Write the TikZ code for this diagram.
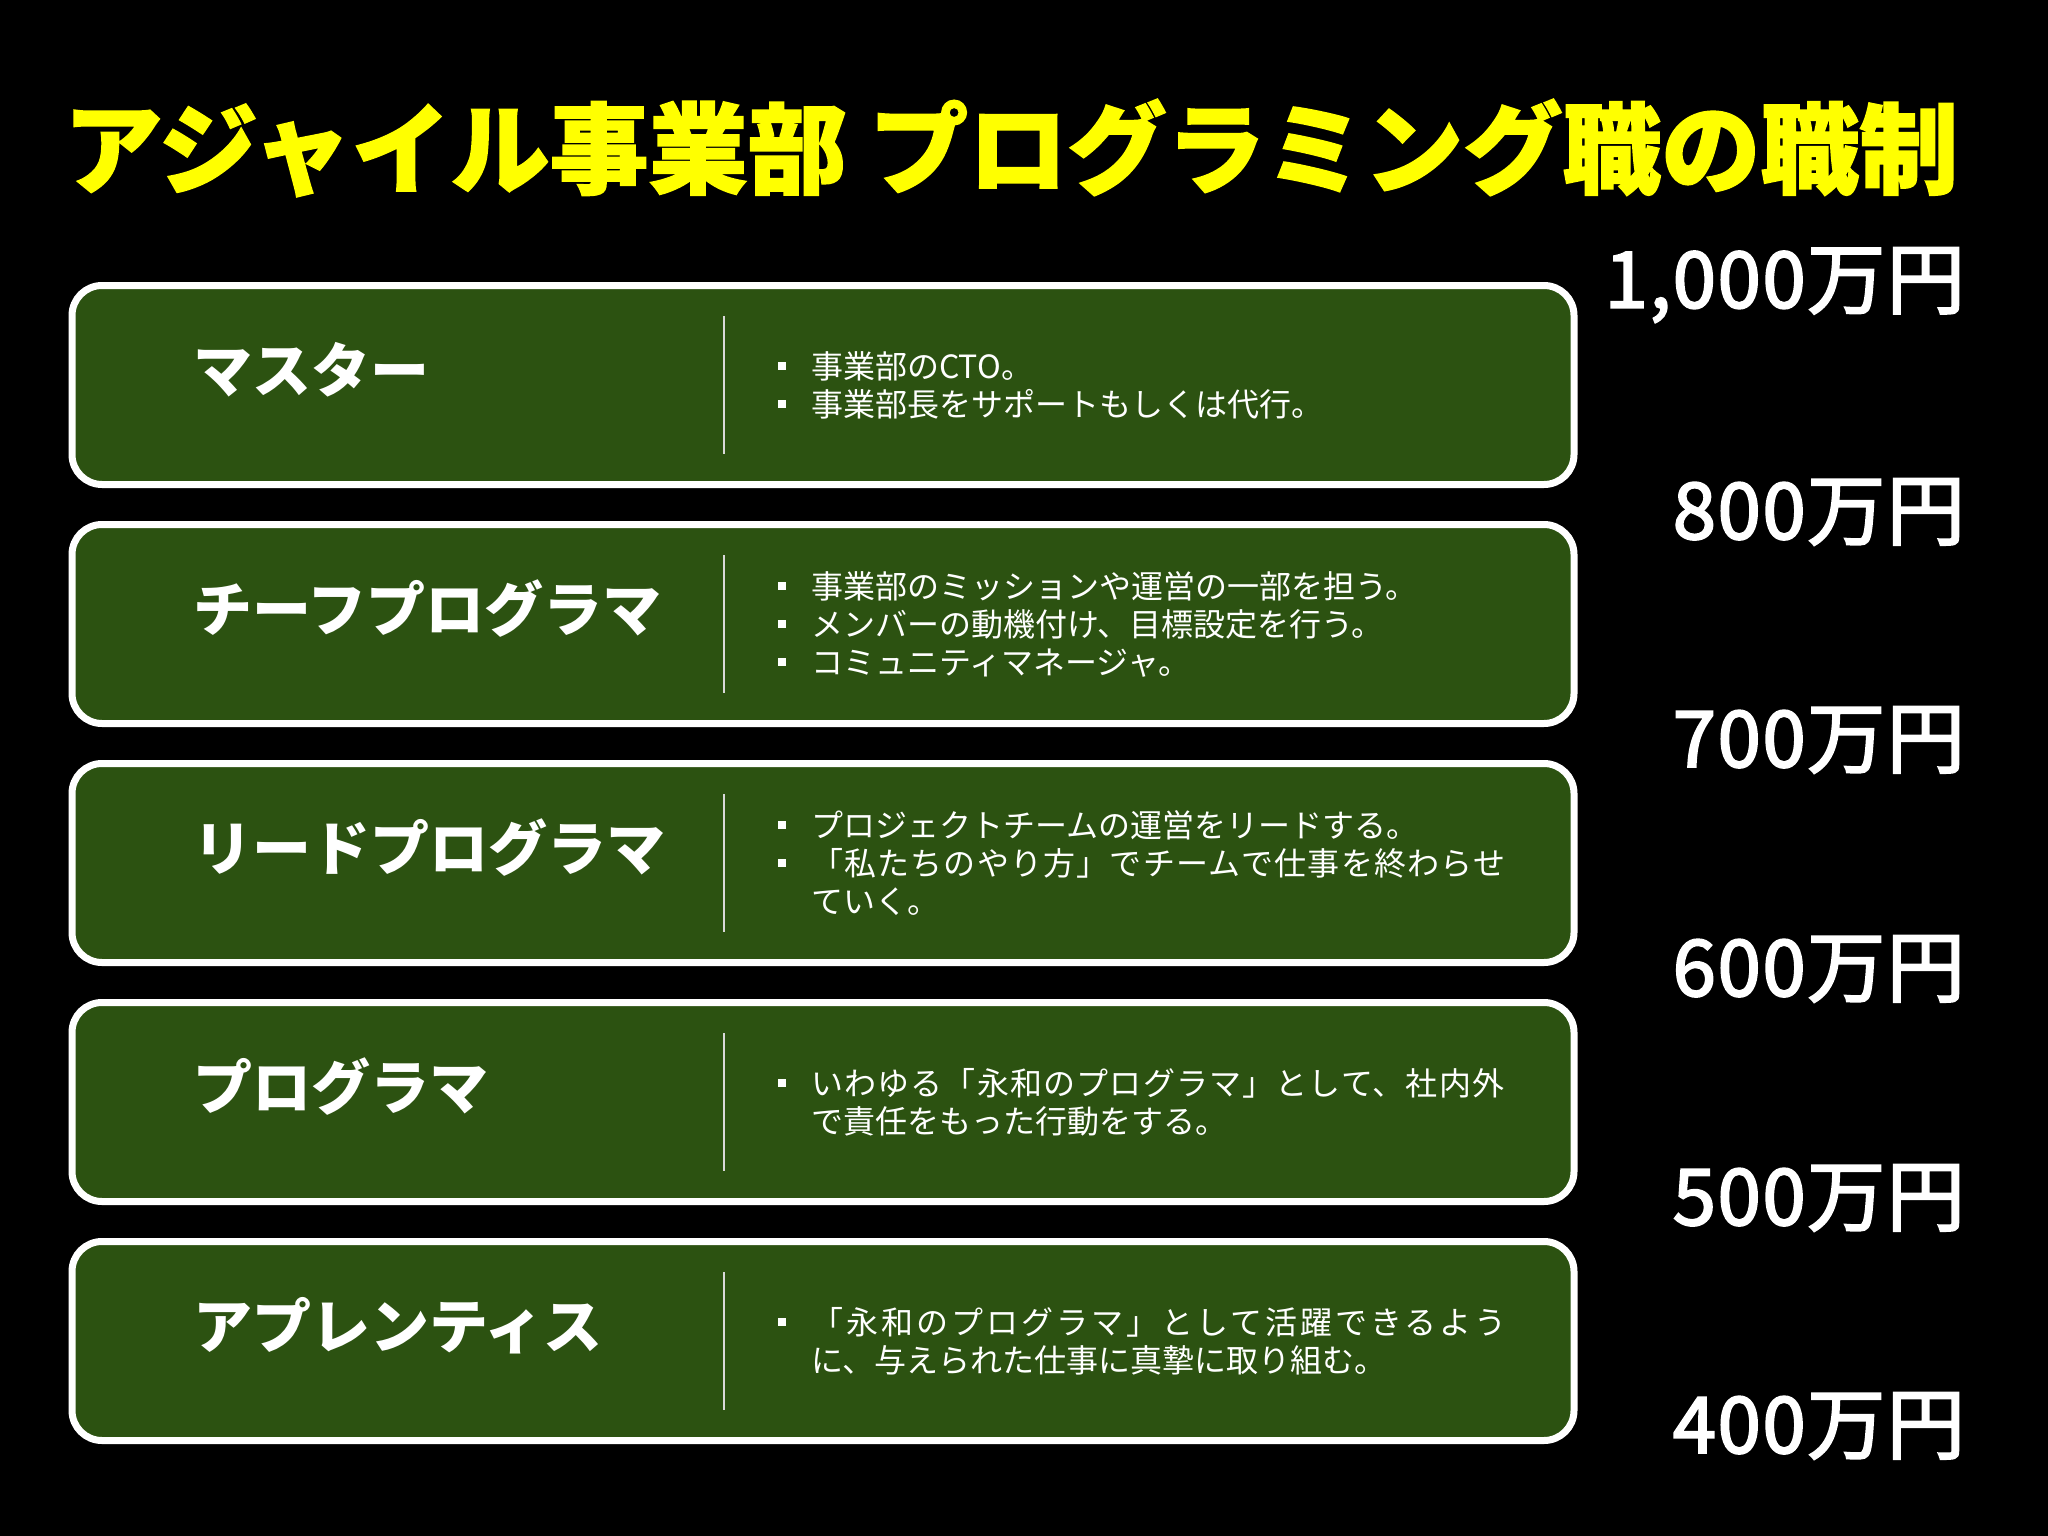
\documentclass[tikz,border=0pt]{standalone}
\usepackage{fontspec}
\newfontfamily\jpfont{Noto Sans CJK JP}
\usetikzlibrary{positioning}

\definecolor{tiergreen}{RGB}{44,82,17}
\definecolor{titleyellow}{RGB}{255,255,0}
\newcommand{\tierbullet}{\raisebox{8pt}{\rule{8pt}{8pt}}\hspace{25pt}}
\newcommand{\tierindent}{\hspace*{33pt}}
\newcommand{\spreadline}[2]{{\addfontfeature{LetterSpace=#1}#2}}

\begin{document}
\begin{tikzpicture}[x=1pt, y=-1pt,
    tierbox/.style={rectangle, rounded corners=30pt, draw=white, fill=tiergreen, line width=7pt, minimum width=1502pt, minimum height=199pt, inner sep=0pt, outer sep=0pt},
    tiername/.style={anchor=west, text=white, inner sep=0pt, font=\jpfont\bfseries\fontsize{59}{70}\selectfont},
    duties/.style={anchor=west, align=left, text=white, inner sep=0pt, font=\jpfont\fontsize{32}{38}\selectfont},
    divider/.style={draw=white!85!black, line width=2pt},
    salary/.style={anchor=east, text=white, inner sep=0pt, font=\jpfont\fontsize{78}{90}\selectfont\addfontfeature{FakeBold=2.5,LetterSpace=2}},
    titletext/.style={text=titleyellow, inner sep=0pt, font=\jpfont\bfseries\fontsize{99}{110}\selectfont\addfontfeature{FakeBold=1.5}},
    ]
    \useasboundingbox (0,0) rectangle (2048,1536);
    \fill[black] (0,0) rectangle (2048,1536);

    %Title
    \node[titletext] (title) at (1011,148) {アジャイル事業部 プログラミング職の職制};

    %Tiers
    \node[tierbox] (master)     at (823,385)  {};
    \node[tierbox] (chief)      at (823,624)  {};
    \node[tierbox] (lead)       at (823,863)  {};
    \node[tierbox] (programmer) at (823,1102) {};
    \node[tierbox] (apprentice) at (823,1341) {};

    %Tier names
    \node[tiername] (masterName)     [right=121pt of master.west, yshift=15pt]     {マスター};
    \node[tiername] (chiefName)      [right=121pt of chief.west, yshift=15pt]      {チーフプログラマ};
    \node[tiername] (leadName)       [right=121pt of lead.west, yshift=15pt]       {リードプログラマ};
    \node[tiername] (programmerName) [right=121pt of programmer.west, yshift=15pt] {プログラマ};
    \node[tiername] (apprenticeName) [right=121pt of apprentice.west, yshift=15pt] {アプレンティス};

    %Duties
    \node[duties] (masterDuty) [right=706pt of master.west]
        {\tierbullet 事業部のCTO。\\
         \tierbullet 事業部長をサポートもしくは代行。};
    \node[duties] (chiefDuty) [right=706pt of chief.west]
        {\tierbullet 事業部のミッションや運営の一部を担う。\\
         \tierbullet メンバーの動機付け、目標設定を行う。\\
         \tierbullet コミュニティマネージャ。};
    \node[duties] (leadDuty) [right=706pt of lead.west]
        {\tierbullet プロジェクトチームの運営をリードする。\\
         \tierbullet \spreadline{3.7}{「私たちのやり方」でチームで仕事を終わらせ}\\
         \tierindent ていく。};
    \node[duties] (programmerDuty) [right=706pt of programmer.west]
        {\tierbullet \spreadline{3.7}{いわゆる「永和のプログラマ」として、社内外}\\
         \tierindent で責任をもった行動をする。};
    \node[duties] (apprenticeDuty) [right=706pt of apprentice.west]
        {\tierbullet \spreadline{9.4}{「永和のプログラマ」として活躍できるよう}\\
         \tierindent に、与えられた仕事に真摯に取り組む。};

    %Salaries
    \node[salary] (s1000) at (1965,285)  {1,000万円};
    \node[salary] (s800)  at (1965,512)  {800万円};
    \node[salary] (s700)  at (1965,740)  {700万円};
    \node[salary] (s600)  at (1965,969)  {600万円};
    \node[salary] (s500)  at (1965,1198) {500万円};
    \node[salary] (s400)  at (1965,1426) {400万円};

    %Lines
    \draw[divider] ([xshift=652pt, yshift=69pt]master.west) -- ([xshift=652pt, yshift=-69pt]master.west);
    \draw[divider] ([xshift=652pt, yshift=69pt]chief.west) -- ([xshift=652pt, yshift=-69pt]chief.west);
    \draw[divider] ([xshift=652pt, yshift=69pt]lead.west) -- ([xshift=652pt, yshift=-69pt]lead.west);
    \draw[divider] ([xshift=652pt, yshift=69pt]programmer.west) -- ([xshift=652pt, yshift=-69pt]programmer.west);
    \draw[divider] ([xshift=652pt, yshift=69pt]apprentice.west) -- ([xshift=652pt, yshift=-69pt]apprentice.west);

    \end{tikzpicture}
\end{document}
